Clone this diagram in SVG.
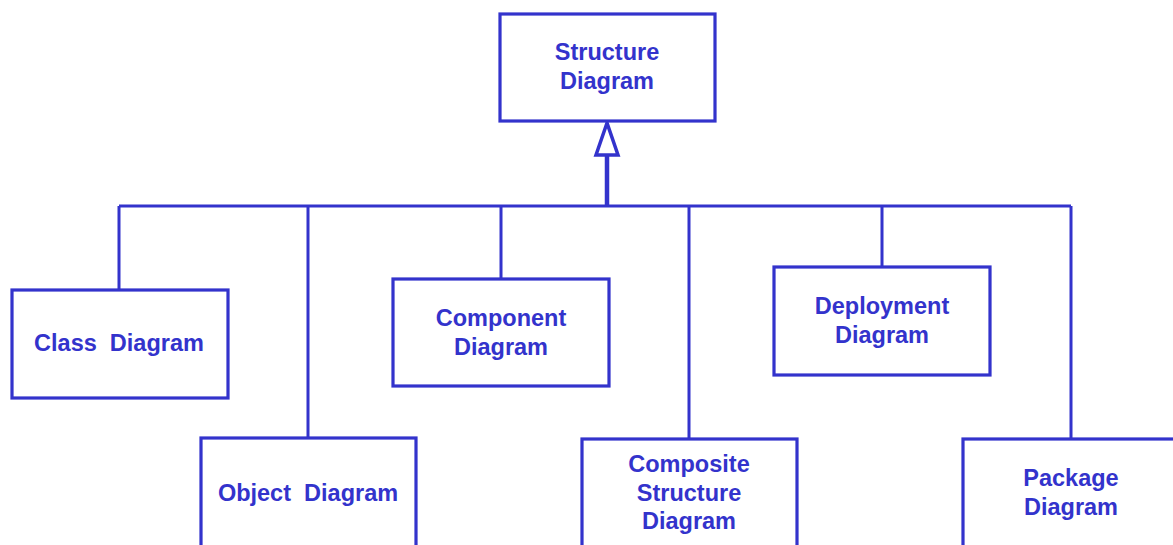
<svg xmlns="http://www.w3.org/2000/svg" width="1173" height="545" viewBox="0 0 1173 545">
<style>
.box{fill:#fff;stroke:#3333CC;stroke-width:3.2}
.ln{fill:none;stroke:#3333CC;stroke-width:3}
.stem{fill:none;stroke:#3333CC;stroke-width:4.5}
text{font-family:"Liberation Sans",Arial,sans-serif;font-weight:bold;font-size:23.5px;fill:#3333CC;text-anchor:middle;white-space:pre}
</style>
<rect width="1173" height="545" fill="#fff"/>
<g id="connectors">
<path class="ln" d="M119 206H1071M119 206V290M308 206V438M501 206V279M689 206V439M882 206V267M1071 206V439"/>
<path class="stem" d="M607 155V206"/>
<polygon points="607,123 596,155 618,155" fill="#fff" stroke="#3333CC" stroke-width="3.5" stroke-linejoin="miter"/>
</g>
<g id="structure"><rect class="box" x="500" y="14" width="215" height="107"/><text x="607" y="60">Structure</text><text x="607" y="89">Diagram</text></g>
<g id="class"><rect class="box" x="12" y="290" width="216" height="108"/><text x="119" y="351">Class  Diagram</text></g>
<g id="object"><rect class="box" x="201" y="438" width="215" height="120"/><text x="308" y="501">Object  Diagram</text></g>
<g id="component"><rect class="box" x="393" y="279" width="216" height="107"/><text x="501" y="326">Component</text><text x="501" y="355">Diagram</text></g>
<g id="composite"><rect class="box" x="582" y="439" width="215" height="120"/><text x="689" y="472">Composite</text><text x="689" y="501">Structure</text><text x="689" y="529">Diagram</text></g>
<g id="deployment"><rect class="box" x="774" y="267" width="216" height="108"/><text x="882" y="314">Deployment</text><text x="882" y="343">Diagram</text></g>
<g id="package"><rect class="box" x="963" y="439" width="220" height="120"/><text x="1071" y="486">Package</text><text x="1071" y="515">Diagram</text></g>
</svg>
